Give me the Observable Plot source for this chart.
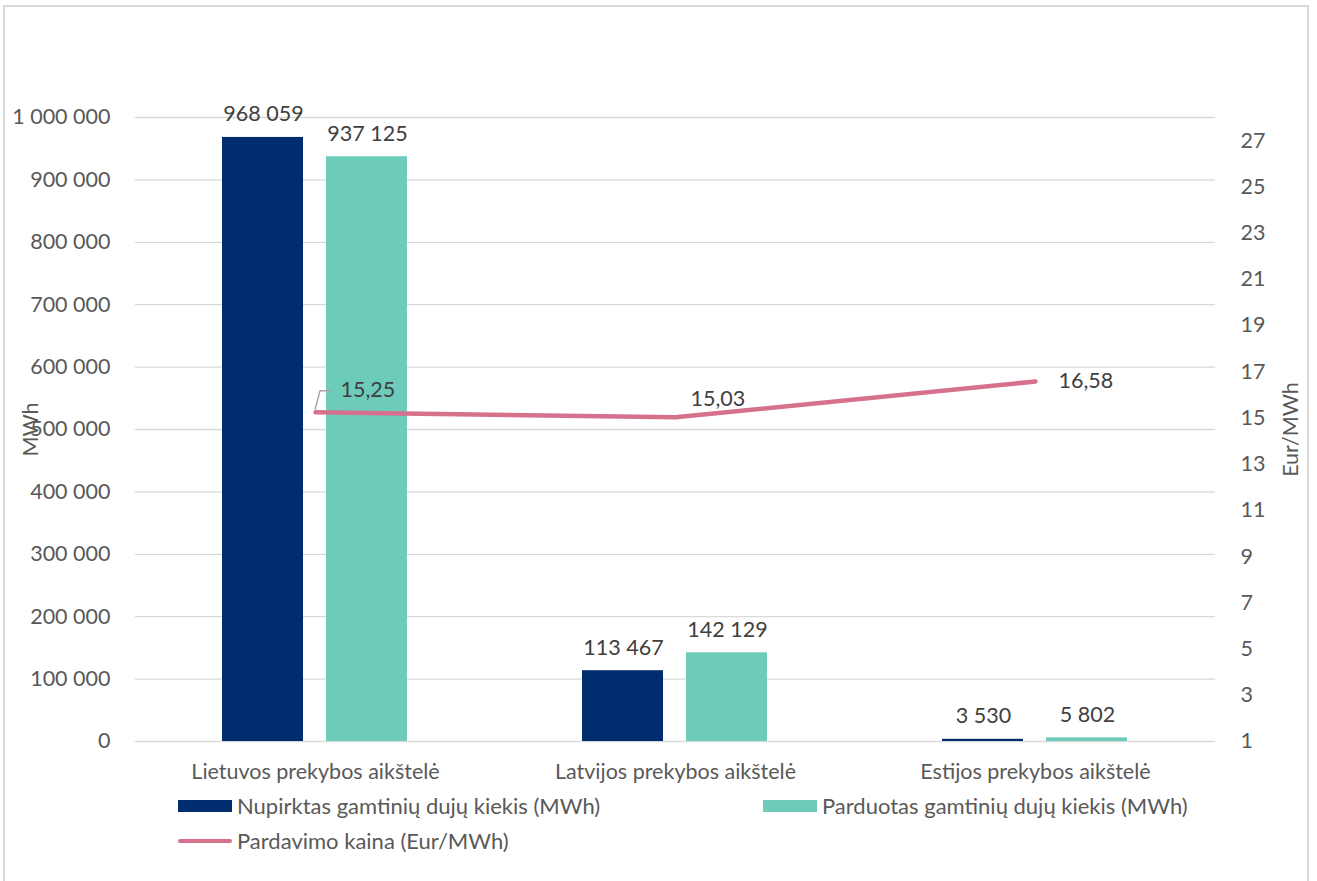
<!DOCTYPE html>
<html>
<head>
<meta charset="utf-8">
<script src="https://cdn.jsdelivr.net/npm/d3@7"></script>
<script src="https://cdn.jsdelivr.net/npm/@observablehq/plot@0.6"></script>
<style>
  html, body { margin: 0; padding: 0; background: #fff; }
  body { width: 1317px; height: 881px; position: relative; overflow: hidden; font-family: Lato, "Open Sans", sans-serif; }
  #frame { position: absolute; left: 3px; top: 5px; width: 1306px; height: 880px; border: 2px solid #d9d9d9; box-sizing: border-box; pointer-events: none; }
  #chart { position: absolute; left: 0; top: 0; }
  .legend { position: absolute; font-size: 22px; line-height: 24px; height: 24px; color: #595959; display: flex; align-items: center; white-space: nowrap; }
  .sw { display: inline-block; width: 54px; height: 12px; margin-right: 5px; }
  .ln { display: inline-block; width: 54px; height: 4px; border-radius: 2px; margin-right: 5px; }
</style>
</head>
<body>
<div id="chart"></div>
<div class="legend" style="left:178px; top:794px;"><span class="sw" style="background:#002d6e"></span>Nupirktas gamtinių dujų kiekis (MWh)</div>
<div class="legend" style="left:763px; top:794px;"><span class="sw" style="background:#6ccbb9"></span>Parduotas gamtinių dujų kiekis (MWh)</div>
<div class="legend" style="left:178px; top:829px;"><span class="ln" style="background:#d6718d"></span>Pardavimo kaina (Eur/MWh)</div>
<div id="frame"></div>
<script>
const categories = ["Lietuvos prekybos aikštelė", "Latvijos prekybos aikštelė", "Estijos prekybos aikštelė"];
const bought = [968059, 113467, 3530];
const sold = [937125, 142129, 5802];
const price = [15.25, 15.03, 16.58];
const leftTicks = [0, 100000, 200000, 300000, 400000, 500000, 600000, 700000, 800000, 900000, 1000000];
const rightTicks = [1, 3, 5, 7, 9, 11, 13, 15, 17, 19, 21, 23, 25, 27];
const rightDomain = [1, 28];

const navy = "#002d6e", teal = "#6ccbb9", pink = "#d6718d", grey = "#595959";
const toLeft = d3.scaleLinear().domain(rightDomain).range([0, 1000000]);
const fmtInt = v => d3.format(",")(v).replace(/,/g, " ");
const fmtDec = v => v.toFixed(2).replace(".", ",");

const rows = categories.map((c, i) => ({cat: c, bought: bought[i], sold: sold[i], price: price[i], py: toLeft(price[i])}));

const leader = (index, scales) => {
  const bw = scales.x.bandwidth ? scales.x.bandwidth() : 0;
  const x0 = scales.x(rows[0].cat) + bw / 2;
  const y0 = scales.y(rows[0].py);
  const p = document.createElementNS("http://www.w3.org/2000/svg", "path");
  p.setAttribute("d", `M${x0},${y0 - 2}L${x0 + 5},${y0 - 21}L${x0 + 17},${y0 - 21}`);
  p.setAttribute("fill", "none");
  p.setAttribute("stroke", "#a6a6a6");
  p.setAttribute("stroke-width", "1.5");
  return p;
};

const chart = Plot.plot({
  width: 1317,
  height: 790,
  marginLeft: 135,
  marginRight: 102,
  marginTop: 117,
  marginBottom: 49,
  style: {fontFamily: "Lato, 'Open Sans', sans-serif", fontSize: "21.5px", color: grey, background: "transparent"},
  x: {domain: categories, padding: 0, label: null},
  y: {domain: [0, 1000000], label: null},
  marks: [
    Plot.gridY(leftTicks.slice(1), {stroke: "#d9d9d9", strokeOpacity: 1, strokeWidth: 1.3}),
    Plot.ruleY([0], {stroke: "#d9d9d9", strokeWidth: 1.5}),
    Plot.axisY(leftTicks, {anchor: "left", tickSize: 0, tickPadding: 25, tickFormat: fmtInt, label: "MWh", labelAnchor: "center", labelArrow: "none", labelOffset: 113, fill: grey}),
    Plot.axisY(rightTicks.map(t => toLeft(t)), {anchor: "right", tickSize: 0, tickPadding: 25, tickFormat: d => String(Math.round(toLeft.invert(d))), label: "Eur/MWh", labelAnchor: "center", labelArrow: "none", labelOffset: 82, fill: grey}),
    Plot.axisX({tickSize: 0, tickPadding: 22, fill: grey, label: null}),
    Plot.barY(rows, {x: "cat", y: "bought", fill: navy, insetLeft: 87, insetRight: 192}),
    Plot.barY(rows, {x: "cat", y: "sold", fill: teal, insetLeft: 191, insetRight: 88}),
    Plot.text(rows, {x: "cat", y: "bought", text: d => fmtInt(d.bought), dx: -52, dy: -16, lineAnchor: "bottom", fill: "#404040"}),
    Plot.text(rows, {x: "cat", y: "sold", text: d => fmtInt(d.sold), dx: 52, dy: -16, lineAnchor: "bottom", fill: "#404040"}),
    Plot.line(rows, {x: "cat", y: "py", stroke: pink, strokeWidth: 4.5, strokeLinecap: "round"}),
    leader,
    Plot.text(rows.slice(0, 1), {x: "cat", y: "py", text: d => fmtDec(d.price), dx: 25, dy: -22, textAnchor: "start", fill: "#404040"}),
    Plot.text(rows.slice(1, 2), {x: "cat", y: "py", text: d => fmtDec(d.price), dx: 15, dy: -18, textAnchor: "start", fill: "#404040"}),
    Plot.text(rows.slice(2, 3), {x: "cat", y: "py", text: d => fmtDec(d.price), dx: 23, dy: 0, textAnchor: "start", fill: "#404040"})
  ]
});
document.getElementById("chart").appendChild(chart);
</script>
</body>
</html>
